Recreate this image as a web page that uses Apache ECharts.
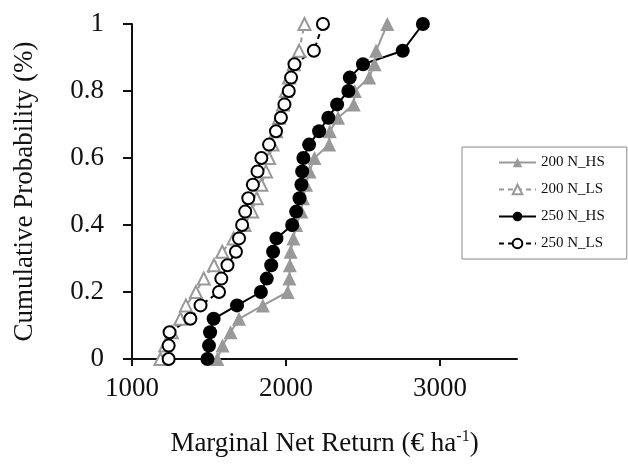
<!DOCTYPE html>
<html>
<head>
<meta charset="utf-8">
<style>
    html, body { margin: 0; padding: 0; overflow: hidden; background: #fff; }
</style>
</head>
<body>
<div id="chart" style="width:628px; height:464px;"></div>
<script src="https://cdn.jsdelivr.net/npm/echarts@6/dist/echarts.min.js"></script>
<script>
    // cumulative probability levels (0.96 step is not plotted in the source)
    var prob = [0, 0.04, 0.08, 0.12, 0.16, 0.20, 0.24, 0.28, 0.32, 0.36, 0.40, 0.44, 0.48,
        0.52, 0.56, 0.60, 0.64, 0.68, 0.72, 0.76, 0.80, 0.84, 0.88, 0.92, 1.00];

    var n200HS = [1554, 1588, 1640, 1695, 1850, 2011, 2022, 2025, 2030, 2048, 2066, 2100, 2110,
        2130, 2153, 2185, 2280, 2285, 2338, 2440, 2447, 2540, 2575, 2585, 2658];
    var n200LS = [1185, 1216, 1259, 1314, 1350, 1415, 1466, 1532, 1586, 1660, 1730, 1780, 1810,
        1840, 1870, 1890, 1912, 1935, 1955, 1980, 2000, 2020, 2050, 2085, 2120];
    var n250HS = [1490, 1500, 1507, 1530, 1682, 1837, 1875, 1904, 1916, 1938, 2040, 2066, 2088,
        2100, 2105, 2113, 2150, 2215, 2275, 2332, 2405, 2414, 2500, 2758, 2889];
    var n250LS = [1238, 1238, 1244, 1379, 1445, 1565, 1580, 1620, 1675, 1695, 1715, 1735, 1755,
        1785, 1815, 1840, 1890, 1935, 1967, 1990, 2018, 2033, 2055, 2181, 2240];

    var xTicks = [1000, 2000, 3000];

    function pairs(xs) {
        return xs.map(function (v, i) { return [v, prob[i]]; });
    }

    var serif = 'Liberation Serif, Times New Roman, serif';
    var chart = echarts.init(document.getElementById('chart'), null, {renderer: 'canvas'});

    chart.setOption({
        animation: false,
        grid: {left: 132, right: 111, top: 24, bottom: 105},
        legend: {
            orient: 'vertical',
            left: 462,
            top: 147,
            padding: [8, 22, 8, 36],
            itemWidth: 37,
            itemHeight: 12,
            itemGap: 12,
            borderColor: '#888',
            borderWidth: 1,
            textStyle: {fontFamily: serif, fontSize: 15, color: '#111'},
            data: ['200 N_HS', '200 N_LS', '250 N_HS', '250 N_LS']
        },
        xAxis: {
            type: 'value',
            min: 1000,
            max: 3500,
            interval: 1000,
            name: 'Marginal Net Return (€ ha{sup|-1})',
            nameLocation: 'middle',
            nameGap: 70,
            nameTextStyle: {
                fontFamily: serif, fontSize: 27, color: '#111',
                rich: {sup: {fontFamily: serif, fontSize: 16, color: '#111', verticalAlign: 'top', padding: [0, 0, 14, 0]}}
            },
            axisLine: {lineStyle: {color: '#111', width: 2}},
            axisTick: {length: 7, customValues: xTicks, lineStyle: {color: '#111', width: 2}},
            axisLabel: {
                customValues: xTicks, margin: 16, fontFamily: serif, fontSize: 27, color: '#111',
                formatter: function (v) { return String(v); }
            },
            splitLine: {show: false}
        },
        yAxis: {
            type: 'value',
            min: 0,
            max: 1,
            interval: 0.2,
            name: 'Cumulative Probability (%)',
            nameLocation: 'middle',
            nameGap: 94,
            nameTextStyle: {fontFamily: serif, fontSize: 27, color: '#111'},
            axisLine: {show: true, lineStyle: {color: '#111', width: 2}},
            axisTick: {show: true, length: 9, lineStyle: {color: '#111', width: 2}},
            axisLabel: {margin: 28, fontFamily: serif, fontSize: 27, color: '#111'},
            splitLine: {show: false}
        },
        series: [
            {
                name: '200 N_HS', type: 'line', data: pairs(n200HS),
                symbol: 'triangle', symbolSize: 14,
                lineStyle: {color: '#999', width: 2},
                itemStyle: {color: '#999', borderColor: '#999', borderWidth: 0}
            },
            {
                name: '200 N_LS', type: 'line', data: pairs(n200LS),
                symbol: 'triangle', symbolSize: 12,
                lineStyle: {color: '#999', width: 2, type: [5, 4]},
                itemStyle: {color: '#fff', borderColor: '#999', borderWidth: 2}
            },
            {
                name: '250 N_HS', type: 'line', data: pairs(n250HS),
                symbol: 'circle', symbolSize: 14,
                lineStyle: {color: '#000', width: 2},
                itemStyle: {color: '#000', borderColor: '#000', borderWidth: 0}
            },
            {
                name: '250 N_LS', type: 'line', data: pairs(n250LS),
                symbol: 'circle', symbolSize: 12,
                lineStyle: {color: '#000', width: 2, type: [5, 4]},
                itemStyle: {color: '#fff', borderColor: '#000', borderWidth: 2}
            }
        ]
    });
</script>
</body>
</html>
